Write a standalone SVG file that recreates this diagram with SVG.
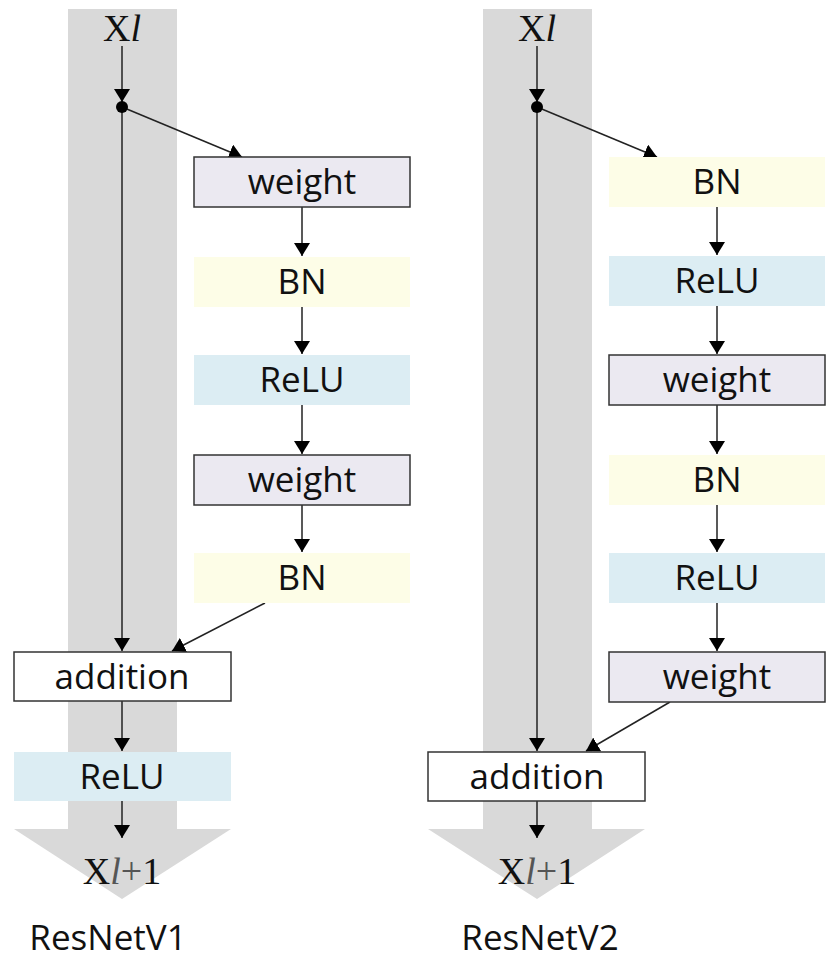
<svg xmlns="http://www.w3.org/2000/svg" width="834" height="969" viewBox="0 0 834 969">
<style>
.t{font-family:"Open Sans","Noto Sans",sans-serif;font-size:35px;fill:#111;text-anchor:middle}
.x{font-family:"Liberation Serif",serif;font-size:38px;fill:#111;text-anchor:middle}
.w{fill:#ebe9f1;stroke:#333;stroke-width:1.5}
.bn{fill:#fdfde7}
.re{fill:#dcedf3}
.ad{fill:#fff;stroke:#333;stroke-width:1.5}
.c line{stroke:#222;stroke-width:1.5;marker-end:url(#a)}
</style>
<defs><marker id="a" markerWidth="13" markerHeight="16" refX="13" refY="8" orient="auto" markerUnits="userSpaceOnUse" viewBox="0 0 13 16"><path d="M0,0L13,8L0,16z" fill="#000"/></marker></defs>
<g id="bg">
<path d="M68,9H177V829H231L122,899L14,829H68Z" fill="#d9d9d9"/>
<path d="M483,9H592V829H645L537,899L428,829H483Z" fill="#d9d9d9"/>
</g>
<g class="c" id="connectors">
<line x1="122" y1="46" x2="122" y2="102"/>
<line x1="122" y1="107" x2="122" y2="651"/>
<line x1="122" y1="107" x2="242" y2="157"/>
<line x1="302" y1="207" x2="302" y2="256"/>
<line x1="302" y1="307" x2="302" y2="354"/>
<line x1="302" y1="405" x2="302" y2="454"/>
<line x1="302" y1="505" x2="302" y2="552"/>
<line x1="265" y1="603" x2="172" y2="651"/>
<line x1="122" y1="701" x2="122" y2="751"/>
<line x1="122" y1="801" x2="122" y2="838"/>
<line x1="537" y1="46" x2="537" y2="102"/>
<line x1="537" y1="107" x2="537" y2="751"/>
<line x1="537" y1="107" x2="657" y2="157"/>
<line x1="717" y1="207" x2="717" y2="255"/>
<line x1="717" y1="306" x2="717" y2="354"/>
<line x1="717" y1="405" x2="717" y2="454"/>
<line x1="717" y1="505" x2="717" y2="552"/>
<line x1="717" y1="603" x2="717" y2="651"/>
<line x1="670" y1="702" x2="586" y2="751"/>
<line x1="537" y1="801" x2="537" y2="838"/>
<circle cx="122" cy="107" r="6" fill="#000"/>
<circle cx="537" cy="107" r="6" fill="#000"/>
</g>
<g id="labels">
<text class="x" x="122" y="41">X<tspan font-style="italic">l</tspan></text>
<text class="x" x="122" y="884">X<tspan font-style="italic" fill="#555">l</tspan><tspan fill="#555">+</tspan>1</text>
<text class="x" x="537" y="41">X<tspan font-style="italic">l</tspan></text>
<text class="x" x="537" y="884">X<tspan font-style="italic" fill="#555">l</tspan><tspan fill="#555">+</tspan>1</text>
<text class="t" x="108" y="950" font-size="30">ResNetV1</text>
<text class="t" x="540" y="950" font-size="30">ResNetV2</text>
</g>
<g id="v1-weight1"><rect class="w" x="194" y="157" width="216" height="50"/><text class="t" x="302" y="194">weight</text></g>
<g id="v1-bn1"><rect class="bn" x="194" y="257" width="216" height="50"/><text class="t" x="302" y="294">BN</text></g>
<g id="v1-relu1"><rect class="re" x="194" y="355" width="216" height="50"/><text class="t" x="302" y="392">ReLU</text></g>
<g id="v1-weight2"><rect class="w" x="194" y="455" width="216" height="50"/><text class="t" x="302" y="492">weight</text></g>
<g id="v1-bn2"><rect class="bn" x="194" y="553" width="216" height="50"/><text class="t" x="302" y="590">BN</text></g>
<g id="v1-add"><rect class="ad" x="14" y="652" width="217" height="49"/><text class="t" x="122" y="689">addition</text></g>
<g id="v1-relu2"><rect class="re" x="14" y="752" width="217" height="49"/><text class="t" x="122" y="789">ReLU</text></g>
<g id="v2-bn1"><rect class="bn" x="609" y="157" width="216" height="50"/><text class="t" x="717" y="194">BN</text></g>
<g id="v2-relu1"><rect class="re" x="609" y="256" width="216" height="50"/><text class="t" x="717" y="293">ReLU</text></g>
<g id="v2-weight1"><rect class="w" x="609" y="355" width="216" height="50"/><text class="t" x="717" y="392">weight</text></g>
<g id="v2-bn2"><rect class="bn" x="609" y="455" width="216" height="50"/><text class="t" x="717" y="492">BN</text></g>
<g id="v2-relu2"><rect class="re" x="609" y="553" width="216" height="50"/><text class="t" x="717" y="590">ReLU</text></g>
<g id="v2-weight2"><rect class="w" x="609" y="652" width="216" height="50"/><text class="t" x="717" y="689">weight</text></g>
<g id="v2-add"><rect class="ad" x="428" y="752" width="217" height="49"/><text class="t" x="537" y="789">addition</text></g>
</svg>
